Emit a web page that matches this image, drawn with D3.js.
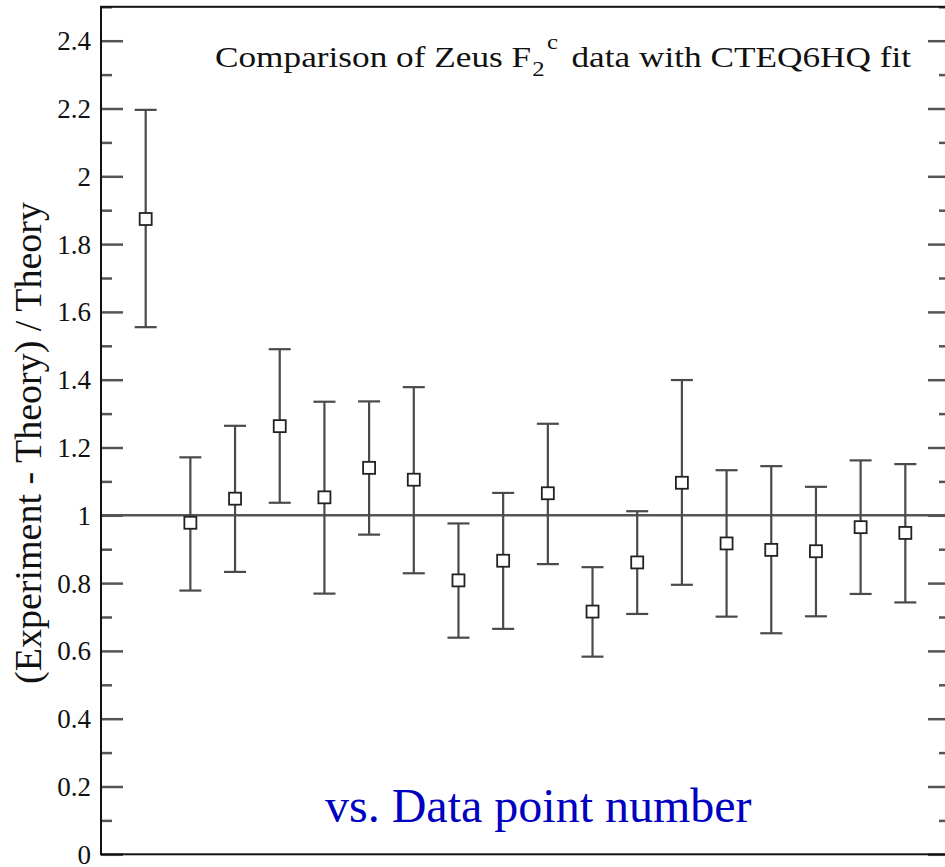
<!DOCTYPE html>
<html>
<head>
<meta charset="utf-8">
<script src="https://cdn.jsdelivr.net/npm/d3@7"></script>
<style>
  html, body { margin: 0; padding: 0; background: #fff; }
  svg { display: block; }
  svg text { font-family: "Liberation Serif", "Times New Roman", serif !important; }
</style>
</head>
<body>
<svg id="chart" width="945" height="867"></svg>
<script>
// ---- data ----
const pointNumbers = [1,2,3,4,5,6,7,8,9,10,11,12,13,14,15,16,17,18];
const ratioValues  = [1.874,0.978,1.049,1.263,1.053,1.140,1.105,0.808,0.866,1.065,0.716,0.861,1.096,0.917,0.898,0.894,0.965,0.948];
const upperValues  = [2.196,1.171,1.264,1.490,1.335,1.336,1.378,0.976,1.066,1.270,0.847,1.012,1.399,1.133,1.145,1.084,1.162,1.151];
const lowerValues  = [1.555,0.778,0.833,1.037,0.769,0.943,0.829,0.639,0.665,0.856,0.583,0.709,0.795,0.701,0.652,0.702,0.768,0.743];
const yMajorTicks  = [0,0.2,0.4,0.6,0.8,1,1.2,1.4,1.6,1.8,2,2.2,2.4];
const yMinorTicks  = [0.1,0.3,0.5,0.7,0.9,1.1,1.3,1.5,1.7,1.9,2.1,2.3,2.5];
const referenceValue = 1;
const titleText = "Comparison of Zeus F";
const titleSub = "2", titleSup = "c";
const titleRest = " data with CTEQ6HQ fit";
const yLabelText = "(Experiment - Theory) / Theory";
const noteText = "vs. Data point number";

// ---- layout ----
const svg = d3.select("#chart");
const plotL = 101, plotR = 950, plotT = 6.8, plotB = 854.3;
const x = d3.scaleLinear().domain([0, 19]).range([plotL, plotR]);
const y = d3.scaleLinear().domain([0, 2.5]).range([plotB, plotT]);
const tickColor = "#555";
const serif = "Liberation Serif, Times New Roman, serif";

// left axis ticks + labels
const leftAxis = d3.axisLeft(y).tickValues(yMajorTicks).tickSize(-22).tickPadding(10)
  .tickFormat(d3.format("~g"));
const gl = svg.append("g").attr("transform", `translate(${plotL},0)`).call(leftAxis)
  .attr("font-family", serif);
gl.select(".domain").remove();
gl.selectAll(".tick line").attr("stroke", tickColor).attr("stroke-width", 2.5);
gl.selectAll(".tick text").attr("font-size", 27).attr("fill", "#111")
  .attr("x", -10).attr("dy", "0.33em");

const leftMinor = d3.axisLeft(y).tickValues(yMinorTicks).tickSize(-11).tickFormat("");
const glm = svg.append("g").attr("transform", `translate(${plotL},0)`).call(leftMinor);
glm.select(".domain").remove();
glm.selectAll(".tick line").attr("stroke", tickColor).attr("stroke-width", 2.5);

// right axis ticks
const rightAxis = d3.axisRight(y).tickValues(yMajorTicks).tickSize(-22).tickFormat("");
const gr = svg.append("g").attr("transform", `translate(${plotR},0)`).call(rightAxis);
gr.select(".domain").remove();
gr.selectAll(".tick line").attr("stroke", tickColor).attr("stroke-width", 2.5);
const rightMinor = d3.axisRight(y).tickValues(yMinorTicks).tickSize(-11).tickFormat("");
const grm = svg.append("g").attr("transform", `translate(${plotR},0)`).call(rightMinor);
grm.select(".domain").remove();
grm.selectAll(".tick line").attr("stroke", tickColor).attr("stroke-width", 2.5);

// reference line
svg.append("line")
  .attr("x1", x(0)).attr("x2", x(19))
  .attr("y1", y(referenceValue)).attr("y2", y(referenceValue))
  .attr("stroke", tickColor).attr("stroke-width", 2.5);

// error bars
const data = pointNumbers.map((n, i) => ({n, v: ratioValues[i], hi: upperValues[i], lo: lowerValues[i]}));
const eb = svg.append("g").attr("stroke", "#4a4a4a").attr("stroke-width", 2.2);
eb.selectAll("line.v").data(data).join("line").attr("class", "v")
  .attr("x1", d => x(d.n)).attr("x2", d => x(d.n))
  .attr("y1", d => y(d.hi)).attr("y2", d => y(d.lo));
eb.selectAll("line.hi").data(data).join("line").attr("class", "hi")
  .attr("x1", d => x(d.n) - 11).attr("x2", d => x(d.n) + 11)
  .attr("y1", d => y(d.hi)).attr("y2", d => y(d.hi));
eb.selectAll("line.lo").data(data).join("line").attr("class", "lo")
  .attr("x1", d => x(d.n) - 11).attr("x2", d => x(d.n) + 11)
  .attr("y1", d => y(d.lo)).attr("y2", d => y(d.lo));

// square markers
const s = 12;
svg.append("g").selectAll("rect").data(data).join("rect")
  .attr("x", d => x(d.n) - s / 2).attr("y", d => y(d.v) - s / 2)
  .attr("width", s).attr("height", s)
  .attr("fill", "#fff").attr("stroke", "#222").attr("stroke-width", 1.8);

// frame
svg.append("rect")
  .attr("x", plotL).attr("y", plotT).attr("width", plotR - plotL).attr("height", plotB - plotT)
  .attr("fill", "none").attr("stroke", "#111").attr("stroke-width", 2);

// title (stretched horizontally to the reference's span 215..903)
const tg = svg.append("g");
const t = tg.append("text").attr("x", 0).attr("y", 0).attr("font-size", 30).attr("fill", "#111")
  .attr("font-family", serif);
t.append("tspan").text(titleText);
t.append("tspan").attr("font-size", 21).attr("dx", 1).attr("dy", 9).text(titleSub);
t.append("tspan").attr("font-size", 21).attr("dx", 2).attr("dy", -27).text(titleSup);
t.append("tspan").attr("dx", 4).attr("dy", 18).text(titleRest);
const tw = t.node().getComputedTextLength() || 600;
const sx = (903 - 215) / tw;
tg.attr("transform", `translate(215,67) scale(${sx},1)`);

// y label
svg.append("text")
  .attr("transform", "translate(41,443) rotate(-90)")
  .attr("text-anchor", "middle").attr("font-size", 38).attr("fill", "#111")
  .attr("font-family", serif)
  .text(yLabelText);

// blue note
svg.append("text").attr("x", 325).attr("y", 822).attr("font-size", 48).attr("fill", "#0000c0")
  .attr("font-family", serif)
  .text(noteText);
</script>
</body>
</html>
